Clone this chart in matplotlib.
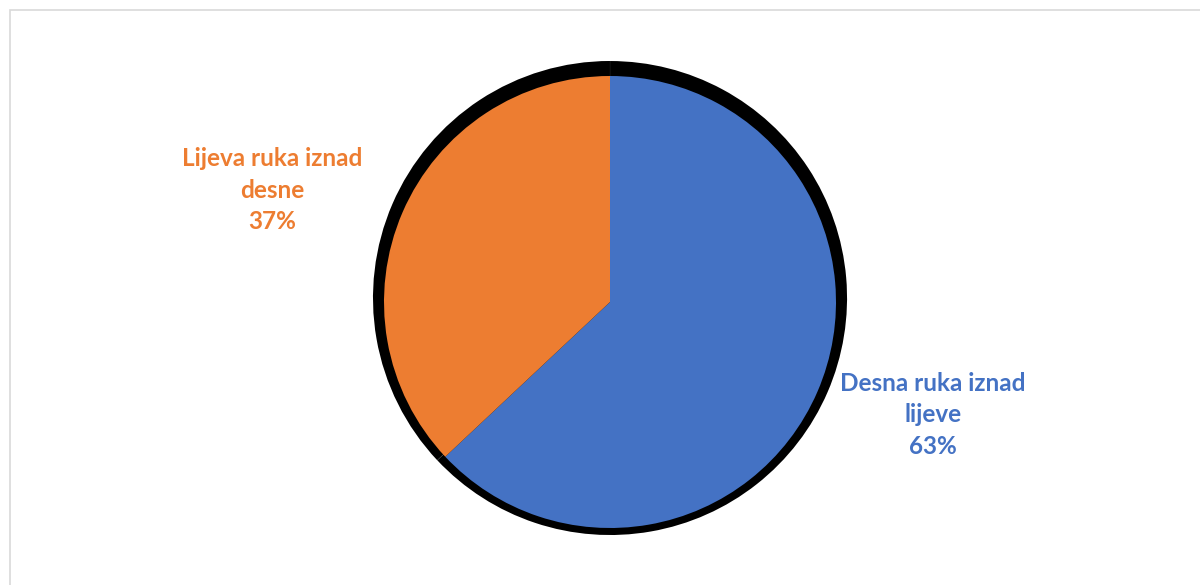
import matplotlib
matplotlib.use("Agg")
import matplotlib.pyplot as plt
from matplotlib.patches import Rectangle

# data
labels = ["Desna ruka iznad\nlijeve", "Lijeva ruka iznad\ndesne"]
values = [63, 37]
colors = ["#4472C4", "#ED7D31"]

W, H = 1200, 585
fig = plt.figure(figsize=(W / 100, H / 100), dpi=100)
ax = fig.add_axes([0, 0, 1, 1])

# light frame of the chart area
ax.add_patch(Rectangle((10, -20), 1250, H - 10 + 20, fill=False,
                       edgecolor="#D9D9D9", linewidth=1.2))

cx, cy, r = 610, H - 302, 226

# black shadow behind the wedges
ax.pie(values, center=(cx, cy + 4), radius=r + 11, startangle=90,
       counterclock=False, colors=["black", "black"], explode=[0.06, 0.025],
       wedgeprops=dict(linewidth=0), frame=True)

# pie itself
wedges, _ = ax.pie(values, center=(cx, cy), radius=r, startangle=90,
                   counterclock=False, colors=colors,
                   wedgeprops=dict(linewidth=0), frame=True)
ax.set_xlim(0, W)
ax.set_ylim(0, H)
ax.set_aspect("equal")
ax.axis("off")

font = ["Lato", "DejaVu Sans"]
ax.text(933, H - 415, f"{labels[0]}\n{values[0]}%", color=colors[0],
        ha="center", va="center", fontsize=17.5, fontweight="bold",
        family=font, linespacing=1.45)
ax.text(272, H - 190, f"{labels[1]}\n{values[1]}%", color=colors[1],
        ha="center", va="center", fontsize=17.5, fontweight="bold",
        family=font, linespacing=1.45)

fig.savefig("out.png", dpi=100, facecolor="white")
